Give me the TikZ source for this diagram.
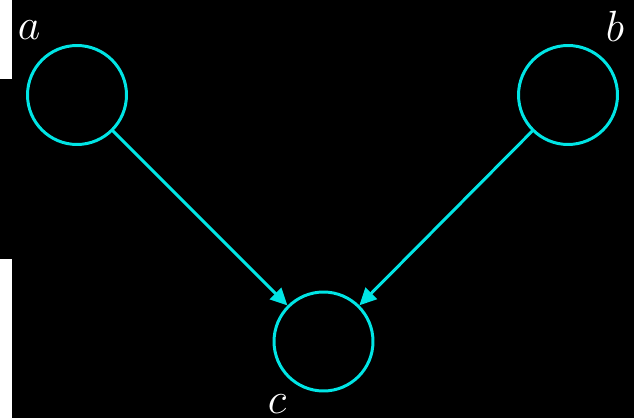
\documentclass[tikz,border=0pt]{standalone}
\usepackage{amsfonts,amsmath,amssymb}
\usepackage{tikz}
\usetikzlibrary{arrows.meta}
\definecolor{nodecyan}{HTML}{00E5E5}
\tikzset{
  every picture/.style={line join=round, line cap=round, >={Triangle[length=0.34cm,width=0.32cm]}},
  varnode/.style={circle,draw=nodecyan,line width=1.7pt,minimum size=1.98cm,inner sep=0pt},
  varlabel/.style={text=white,font=\fontsize{30}{36}\selectfont,inner sep=0pt},
  edge/.style={->,draw=nodecyan,line width=1.7pt},
}

\begin{document}
\begin{tikzpicture}[x=0.02cm,y=-0.02cm]
\fill[black](0,0) rectangle (634,418);
\useasboundingbox (0,0) rectangle (634,418);
\fill[white](0,0) rectangle (12,79);
\fill[white](0,259) rectangle (12,418);
\node[varnode] (a) at (77,95) {};
\node[varnode] (b) at (568,95) {};
\node[varnode] (c) at (323.5,341.5) {};
\node[varlabel] (la) at (29,30) {$a$};
\node[varlabel] (lb) at (615,26) {$b$};
\node[varlabel] (lc) at (277,404) {$c$};
\draw[edge] (a) -- (c);
\draw[edge] (b) -- (c);
\end{tikzpicture}
\end{document}
